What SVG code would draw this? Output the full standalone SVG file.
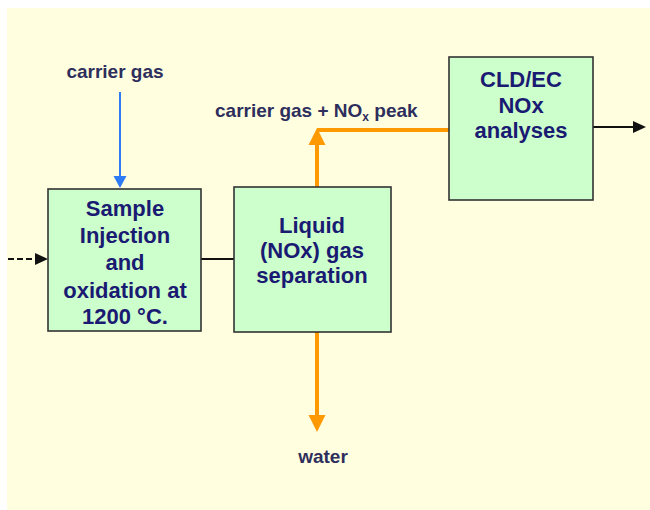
<svg xmlns="http://www.w3.org/2000/svg" width="650" height="510" viewBox="0 0 650 510">
  <style>
    .box { fill: #CCFFCC; stroke: #333333; stroke-width: 1.6; }
    .bt { font-family: "Liberation Sans", Arial, sans-serif; font-weight: bold; font-size: 22px; fill: #1a1a72; text-anchor: middle; }
    .lbl { font-family: "Liberation Sans", Arial, sans-serif; font-weight: bold; font-size: 19px; fill: #2e2e5c; }
    .orange { stroke: #FF9900; stroke-width: 4; fill: none; }
    .blk { stroke: #111111; stroke-width: 1.8; fill: none; }
  </style>
  <defs>
    <marker id="headOrange" markerUnits="userSpaceOnUse" markerWidth="18" markerHeight="18" viewBox="0 0 18 18" refX="0" refY="9" orient="auto">
      <path d="M0,0.5 L17,9 L0,17.5 Z" fill="#FF9900"/>
    </marker>
    <marker id="headBlue" markerUnits="userSpaceOnUse" markerWidth="14" markerHeight="14" viewBox="0 0 14 14" refX="0" refY="7" orient="auto">
      <path d="M0,0.5 L12,7 L0,13.5 Z" fill="#2F7BF5"/>
    </marker>
    <marker id="headBlack" markerUnits="userSpaceOnUse" markerWidth="14" markerHeight="14" viewBox="0 0 14 14" refX="0" refY="7" orient="auto">
      <path d="M0,1 L13,7 L0,13 Z" fill="#111111"/>
    </marker>
  </defs>

  <rect x="7" y="8" width="643" height="502" fill="#FFFFE0"/>

  <g id="connectors">
    <path d="M8,259 L35,259" class="blk" stroke-dasharray="6 3" marker-end="url(#headBlack)"/>
    <path d="M120,92 L120,176" stroke="#2F7BF5" stroke-width="2" fill="none" marker-end="url(#headBlue)"/>
    <path d="M201,259 L234,259" class="blk"/>
    <path d="M317,187 L317,145" class="orange" marker-end="url(#headOrange)"/>
    <path d="M317,130 L449,130" class="orange"/>
    <path d="M317,332 L317,415" class="orange" marker-end="url(#headOrange)"/>
    <path d="M593,127 L633,127" class="blk" marker-end="url(#headBlack)"/>
  </g>

  <g id="label-carrier-gas">
    <text class="lbl" x="115" y="78" text-anchor="middle">carrier gas</text>
  </g>
  <g id="label-peak">
    <text class="lbl" x="215" y="117">carrier gas + NO<tspan font-size="12" dy="4">x</tspan><tspan dy="-4"> peak</tspan></text>
  </g>
  <g id="label-water">
    <text class="lbl" x="323" y="463" text-anchor="middle">water</text>
  </g>

  <g id="node-injection">
    <rect class="box" x="48" y="189" width="153" height="142"/>
    <text class="bt" x="125" y="216">Sample</text>
    <text class="bt" x="125" y="243">Injection</text>
    <text class="bt" x="125" y="270">and</text>
    <text class="bt" x="125" y="298">oxidation at</text>
    <text class="bt" x="125" y="324">1200 °C.</text>
  </g>

  <g id="node-separation">
    <rect class="box" x="234" y="187" width="157" height="145"/>
    <text class="bt" x="312" y="233">Liquid</text>
    <text class="bt" x="312" y="258">(NOx) gas</text>
    <text class="bt" x="312" y="283">separation</text>
  </g>

  <g id="node-analyses">
    <rect class="box" x="449" y="57" width="144" height="143"/>
    <text class="bt" x="521" y="87">CLD/EC</text>
    <text class="bt" x="521" y="113">NOx</text>
    <text class="bt" x="521" y="138">analyses</text>
  </g>
</svg>
